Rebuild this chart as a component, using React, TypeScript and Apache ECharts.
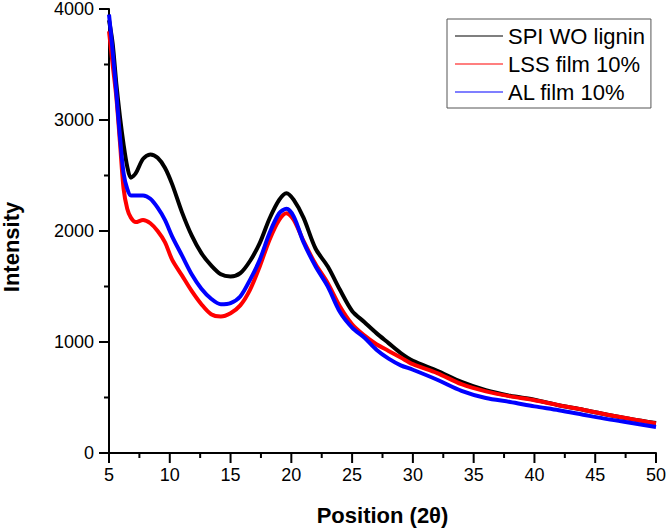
import React, { useEffect, useRef } from "react";
import * as echarts from "echarts";

const seriesNames = ["SPI WO lignin", "LSS film 10%", "AL film 10%"];
const seriesColors = ["#000000", "#ff0000", "#0000ff"];

const positions = [
  5, 5.3, 5.6, 5.9, 6.2, 6.5, 6.8, 7.2, 7.8, 8.4, 9, 9.6, 10.2, 11, 11.8, 12.6,
  13.4, 14.2, 15, 15.8, 16.6, 17.4, 18.2, 19, 19.6, 20.2, 21, 22, 23, 24, 25,
  26, 27, 28, 29, 30, 32, 34, 36, 38, 40, 42, 44, 46, 48, 50,
];

const spiValues = [
  3900, 3690, 3330, 3030, 2780, 2580, 2480, 2520, 2650, 2690, 2660, 2570, 2420,
  2170, 1960, 1800, 1690, 1610, 1590, 1620, 1730, 1890, 2110, 2280, 2340, 2280,
  2120, 1840, 1680, 1470, 1280, 1180, 1080, 990, 900, 830, 740, 640, 565, 515,
  480, 430, 390, 345, 305, 270,
];

const lssValues = [
  3800, 3500, 3210, 2800, 2380, 2200, 2120, 2080, 2100, 2070, 2000, 1900, 1740,
  1600, 1460, 1340, 1250, 1230, 1260, 1330, 1470, 1680, 1920, 2100, 2160, 2100,
  1910, 1700, 1530, 1320, 1160, 1060, 980, 920, 860, 800, 720, 620, 555, 510,
  475, 430, 390, 345, 305, 265,
];

const alValues = [
  3950, 3620, 3250, 2850, 2520, 2380, 2320, 2320, 2320, 2290, 2210, 2100, 1950,
  1780, 1610, 1480, 1390, 1340, 1350, 1410, 1560, 1740, 1980, 2160, 2200, 2130,
  1900, 1680, 1500, 1270, 1130, 1040, 930, 850, 790, 750, 660, 560, 495, 460,
  420, 385, 345, 305, 270, 235,
];

const xTitle = "Position (2θ)";
const yTitle = "Intensity";

const X_MIN = 5;
const X_MAX = 50;
const X_STEP = 5;
const Y_MIN = 0;
const Y_MAX = 4000;
const Y_STEP = 1000;

const FONT = "'Liberation Sans', Arial, sans-serif";

function steps(from: number, to: number, step: number) {
  const out: number[] = [];
  for (let v = from; v <= to + 1e-9; v += step) out.push(v);
  return out;
}

export default function App() {
  const ref = useRef<HTMLDivElement>(null);

  useEffect(() => {
    if (!ref.current) return;
    const chart = echarts.init(ref.current, undefined, { renderer: "svg" });
    const allValues = [spiValues, lssValues, alValues];
    chart.setOption({
      animation: false,
      grid: { left: 109, right: 10, top: 9, bottom: 75, outerBoundsMode: "none" },
      legend: {
        orient: "vertical",
        left: 447,
        top: 19,
        padding: [6, 6, 5, 8],
        borderColor: "#555555",
        borderWidth: 1,
        itemGap: 6,
        itemWidth: 48,
        itemHeight: 1,
        icon: "rect",
        textStyle: { fontFamily: FONT, fontSize: 22, color: "#000000", lineHeight: 22 },
        data: seriesNames,
      },
      xAxis: {
        type: "value",
        min: X_MIN,
        max: X_MAX,
        interval: X_STEP,
        name: xTitle,
        nameLocation: "middle",
        nameGap: 51,
        nameTextStyle: { fontFamily: FONT, fontSize: 22, fontWeight: "bold", color: "#000000" },
        axisLine: { show: true, lineStyle: { color: "#000", width: 2 } },
        axisTick: { show: false },
        minorTick: { show: false },
        splitLine: { show: false },
        axisLabel: {
          fontFamily: FONT,
          fontSize: 18,
          color: "#000000",
          margin: 13,
          formatter: (v: number) => String(v),
        },
      },
      yAxis: {
        type: "value",
        min: Y_MIN,
        max: Y_MAX,
        interval: Y_STEP,
        name: yTitle,
        nameLocation: "middle",
        nameGap: 87,
        nameTextStyle: {
          fontFamily: FONT,
          fontSize: 22,
          fontWeight: "bold",
          color: "#000000",
          padding: [0, 32, 0, 0],
        },
        axisLine: { show: true, lineStyle: { color: "#000", width: 2 } },
        axisTick: { show: false },
        minorTick: { show: false },
        splitLine: { show: false },
        axisLabel: {
          fontFamily: FONT,
          fontSize: 18,
          color: "#000000",
          margin: 15,
          formatter: (v: number) => String(v),
        },
      },
      series: seriesNames.map((name, i) => ({
        name,
        type: "line",
        data: positions.map((x, j) => [x, allValues[i][j]]),
        showSymbol: false,
        smooth: 0.3,
        color: seriesColors[i],
        lineStyle: { color: seriesColors[i], width: 4 },
      })),
    });

    // Tick marks placed through the chart's own scales.
    const tickStyle = { stroke: "#000000", lineWidth: 2 };
    const elements: any[] = [];
    const xMajor = steps(X_MIN, X_MAX, X_STEP);
    const xMinor = steps(X_MIN + X_STEP / 2, X_MAX, X_STEP);
    const yMajor = steps(Y_MIN, Y_MAX, Y_STEP);
    const yMinor = steps(Y_MIN + Y_STEP / 2, Y_MAX, Y_STEP);
    const addX = (v: number, len: number) => {
      const p = chart.convertToPixel({ gridIndex: 0 }, [v, Y_MIN]) as number[];
      if (!p) return;
      elements.push({
        type: "line",
        silent: true,
        shape: { x1: p[0], y1: p[1], x2: p[0], y2: p[1] + len },
        style: tickStyle,
      });
    };
    const addY = (v: number, len: number) => {
      const p = chart.convertToPixel({ gridIndex: 0 }, [X_MIN, v]) as number[];
      if (!p) return;
      elements.push({
        type: "line",
        silent: true,
        shape: { x1: p[0] - len, y1: p[1], x2: p[0], y2: p[1] },
        style: tickStyle,
      });
    };
    xMajor.forEach((v) => addX(v, 10));
    xMinor.forEach((v) => addX(v, 5));
    yMajor.forEach((v) => addY(v, 10));
    yMinor.forEach((v) => addY(v, 5));
    chart.setOption({ graphic: { elements } });

    return () => chart.dispose();
  }, []);

  return (
    <div
      ref={ref}
      style={{ position: "fixed", left: 0, top: 0, width: 666, height: 528, background: "#fff" }}
    />
  );
}
